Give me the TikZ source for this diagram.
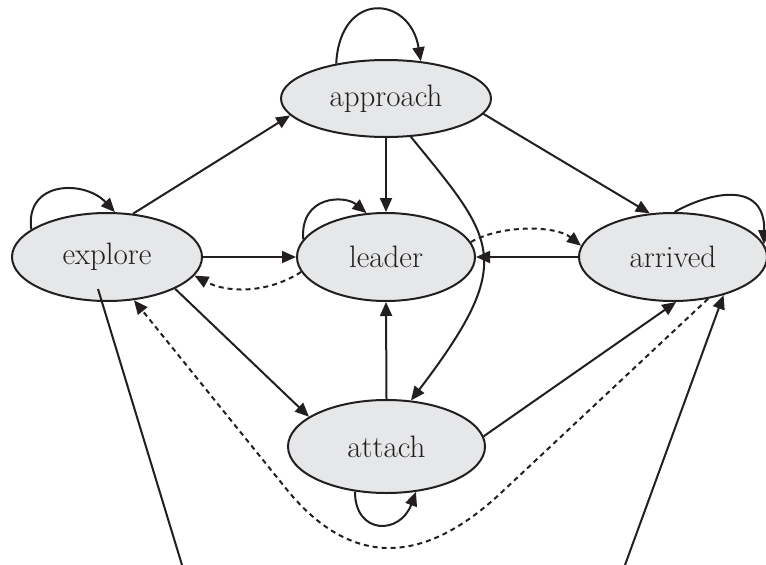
\documentclass[tikz,border=0pt]{standalone}
\usetikzlibrary{arrows.meta,shapes.geometric}
\definecolor{nodegray}{HTML}{E6E7E8}
\definecolor{inkdark}{HTML}{231F20}

\begin{document}
\begin{tikzpicture}[x=1pt, y=-1pt, line width=2pt, color=inkdark,
  >={Triangle[length=14pt,width=12pt]},
  phase/.style={ellipse, draw, fill=nodegray, inner sep=0pt,
    font=\fontsize{31}{33}\selectfont},
  back/.style={dash pattern=on 5pt off 4pt}]
\useasboundingbox (0,0) rectangle (766,565);
\node[phase, minimum width=210pt, minimum height=77pt] (approach) at (386,98.5) {approach};
\node[phase, minimum width=190pt, minimum height=88pt] (explore) at (107,257) {explore};
\node[phase, minimum width=178pt, minimum height=88pt] (leader) at (386,257) {leader};
\node[phase, minimum width=188pt, minimum height=88pt] (arrived) at (673,257) {arrived};
\node[phase, minimum width=197pt, minimum height=93pt] (attach) at (386.5,446.5) {attach};
\coordinate (dipR) at (503,491);
\coordinate (dipL) at (288,491);
\coordinate (exin) at (98,289);
\coordinate (exout) at (182,565);
\coordinate (arin) at (625,565);
% loops
\draw[->] (approach.145) .. controls (340,-10) and (410,-5) .. (approach.47);
\draw[->] (explore.160) .. controls (25,180) and (85,180) .. (explore.80);
\draw[->] (leader.168) .. controls (300,195) and (345,195) .. (leader.114);
\draw[->] (arrived.88) .. controls (710,192) and (765,180) .. (arrived.8);
\draw[->] (attach.-125) .. controls (355,535) and (400,535) .. (attach.-57);
% transitions
\draw[->] (explore.59) -- (approach.190);
\draw[->] (approach.-90) -- (leader.90);
\draw[->] (approach.-9) -- (arrived.118);
\draw[->] (approach.-57) .. controls (495,240) and (518,260) .. (attach.62);
\draw[->] (explore.east) -- (leader.west);
\draw[->] (arrived.west) -- (leader.east);
\draw[->] (explore.-25) -- (attach.159);
\draw[->] (attach.90) -- (leader.-90);
\draw[->] (attach.6) -- (arrived.-86);
\draw[->, back] (leader.190) .. controls (265,295) and (225,292) .. (explore.-12);
\draw[->, back] (leader.10) .. controls (500,225) and (555,225) .. (arrived.173);
\draw[->, back] (arrived.-50) -- (dipR) .. controls (423,567) and (351,567) .. (dipL) -- (explore.-58);
\draw (exin) -- (exout);
\draw[->] (arin) -- (arrived.-37);
\end{tikzpicture}
\end{document}
